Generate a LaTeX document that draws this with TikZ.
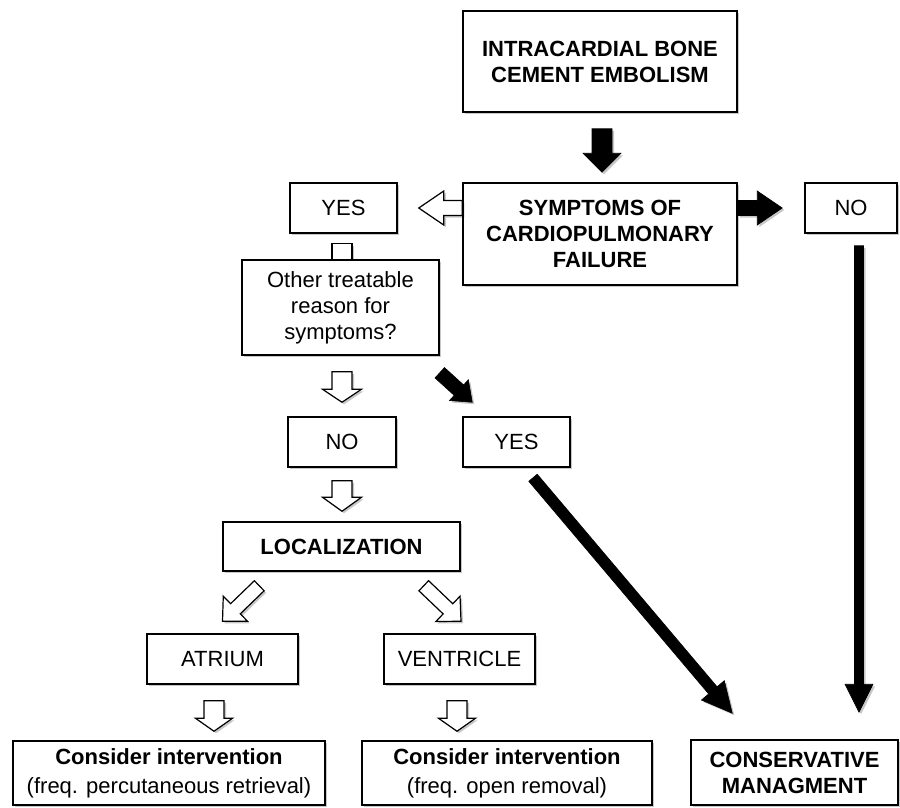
\documentclass[tikz,border=0pt]{standalone}
\usepackage{fontspec}
\setmainfont{Liberation Sans}
\usetikzlibrary{calc, shadows}

\tikzset{
  softshadow/.style={drop shadow={shadow xshift=2pt, shadow yshift=-2pt, opacity=0.22, fill=black}},
  box/.style={draw, fill=white, line width=1.5pt, align=center, inner sep=0pt,
    font=\fontsize{22}{26}\selectfont, softshadow},
  bold/.style={font=\fontsize{22}{26}\selectfont\bfseries},
  blackarrow/.style={draw=black, fill=black, line width=0.6pt, line join=miter, softshadow},
  whitearrow/.style={draw=black, fill=white, line width=1.2pt, line join=miter, softshadow},
}

% fat arrow: [style]{from}{to}{half shaft}{half head}{head length}
\newcommand{\blockarrow}[6][]{%
  \coordinate (ba-h) at ($(#3)!#6!(#2)$);
  \draw[#1] ($(#2)!#4!90:(#3)$) -- ($(ba-h)!#4!90:(#3)$) -- ($(ba-h)!#5!90:(#3)$) -- (#3)
    -- ($(ba-h)!#5!-90:(#3)$) -- ($(ba-h)!#4!-90:(#3)$) -- ($(#2)!#4!-90:(#3)$) -- cycle;
}

\begin{document}
\begin{tikzpicture}[x=1pt, y=-1pt]
    \useasboundingbox (0,0) rectangle (900,807);

    % 1. The boxes
    \node[box, bold, minimum width=274pt, minimum height=101pt] (embolism) at (600,61.5) {INTRACARDIAL BONE\\CEMENT EMBOLISM};
    \node[box, bold, minimum width=274pt, minimum height=102pt] (symptoms) at (600,234) {SYMPTOMS OF\\CARDIOPULMONARY\\FAILURE};
    \node[box, minimum width=92pt, minimum height=50pt] (no-right) at (851,208) {NO};
    \node[box, minimum width=107pt, minimum height=50pt] (yes-left) at (343.5,208) {YES};
    \node[box, minimum width=197pt, minimum height=95pt] (other) at (340.5,307.5) {Other treatable\\reason for\\symptoms?};
    \node[box, minimum width=108pt, minimum height=50pt] (no-mid) at (342,442) {NO};
    \node[box, minimum width=107pt, minimum height=50pt] (yes-mid) at (516.5,442) {YES};
    \node[box, bold, minimum width=237pt, minimum height=49pt] (local) at (341.5,546.5) {LOCALIZATION};
    \node[box, minimum width=151pt, minimum height=50pt] (atrium) at (222.5,659) {ATRIUM};
    \node[box, minimum width=151pt, minimum height=50pt] (ventricle) at (459.5,659) {VENTRICLE};
    \node[box, minimum width=312pt, minimum height=64pt] (interv-a) at (169,773) {\textbf{Consider intervention}\\[3pt](freq. percutaneous retrieval)};
    \node[box, minimum width=290pt, minimum height=64pt] (interv-v) at (507,773) {\textbf{Consider intervention}\\[3pt](freq. open removal)};
    \node[box, bold, minimum width=207pt, minimum height=65pt] (conserv) at (794.5,772.5) {CONSERVATIVE\\MANAGMENT};

    % 2. End points of the arrows
    \coordinate (e-s) at ($(embolism.south)+(2,16)$);
    \coordinate (e-e) at ($(symptoms.north)+(2,-10)$);
    \coordinate (r-s) at (symptoms.east |- no-right.west);
    \coordinate (r-e) at ($(no-right.west)+(-22,0)$);
    \coordinate (l-s) at (symptoms.west |- yes-left.east);
    \coordinate (l-e) at ($(yes-left.east)+(21,0)$);
    \coordinate (o-s) at ($(other.south)+(1.5,16)$);
    \coordinate (o-e) at ($(no-mid.north)+(0,-14)$);
    \coordinate (d-s) at ($(other.south east)+(0,17)$);
    \coordinate (d-e) at ($(yes-mid.north west)+(10,-14)$);
    \coordinate (n-s) at ($(no-mid.south)+(0,13)$);
    \coordinate (n-e) at ($(local.north)+(0.5,-10)$);
    \coordinate (y-s) at ($(yes-mid.south)+(16.5,10)$);
    \coordinate (y-e) at ($(conserv.north west)+(42,-26)$);
    \coordinate (c-s) at ($(no-right.south)+(8,12)$);
    \coordinate (c-e) at ($(c-s |- conserv.north)+(0,-27)$);
    \coordinate (a-s) at ($(local.south west)+(37,14)$);
    \coordinate (a-e) at ($(atrium.north)+(0,-12)$);
    \coordinate (v-s) at ($(local.south east)+(-37,14)$);
    \coordinate (v-e) at ($(ventricle.north)+(1.5,-12)$);
    \coordinate (ai-s) at ($(atrium.south)+(-8.5,16)$);
    \coordinate (ai-e) at ($(ai-s |- interv-a.north)+(0,-9)$);
    \coordinate (vi-s) at ($(ventricle.south)+(-2.5,16)$);
    \coordinate (vi-e) at ($(vi-s |- interv-v.north)+(0,-9)$);

    % 3. Black arrows
    \blockarrow[blackarrow]{e-s}{e-e}{10pt}{19pt}{19pt}
    \blockarrow[blackarrow]{r-s}{r-e}{7.5pt}{17pt}{25pt}
    \blockarrow[blackarrow]{d-s}{d-e}{7pt}{14pt}{18pt}
    \blockarrow[blackarrow]{y-s}{y-e}{5.5pt}{15pt}{30pt}
    \blockarrow[blackarrow]{c-s}{c-e}{4.5pt}{14pt}{28pt}

    % 4. White arrows
    \blockarrow[whitearrow]{l-s}{l-e}{7.5pt}{17pt}{25pt}
    \draw[whitearrow] ($(yes-left.south)+(-11.5,10)$) rectangle ($(other.north)+(11.5,0)$);
    \blockarrow[whitearrow]{o-s}{o-e}{10pt}{19.5pt}{13pt}
    \blockarrow[whitearrow]{n-s}{n-e}{10pt}{19.5pt}{14pt}
    \blockarrow[whitearrow]{a-s}{a-e}{7pt}{17.5pt}{18pt}
    \blockarrow[whitearrow]{v-s}{v-e}{7pt}{17.5pt}{18pt}
    \blockarrow[whitearrow]{ai-s}{ai-e}{10pt}{18.5pt}{13pt}
    \blockarrow[whitearrow]{vi-s}{vi-e}{10pt}{18.5pt}{13pt}

\end{tikzpicture}
\end{document}
